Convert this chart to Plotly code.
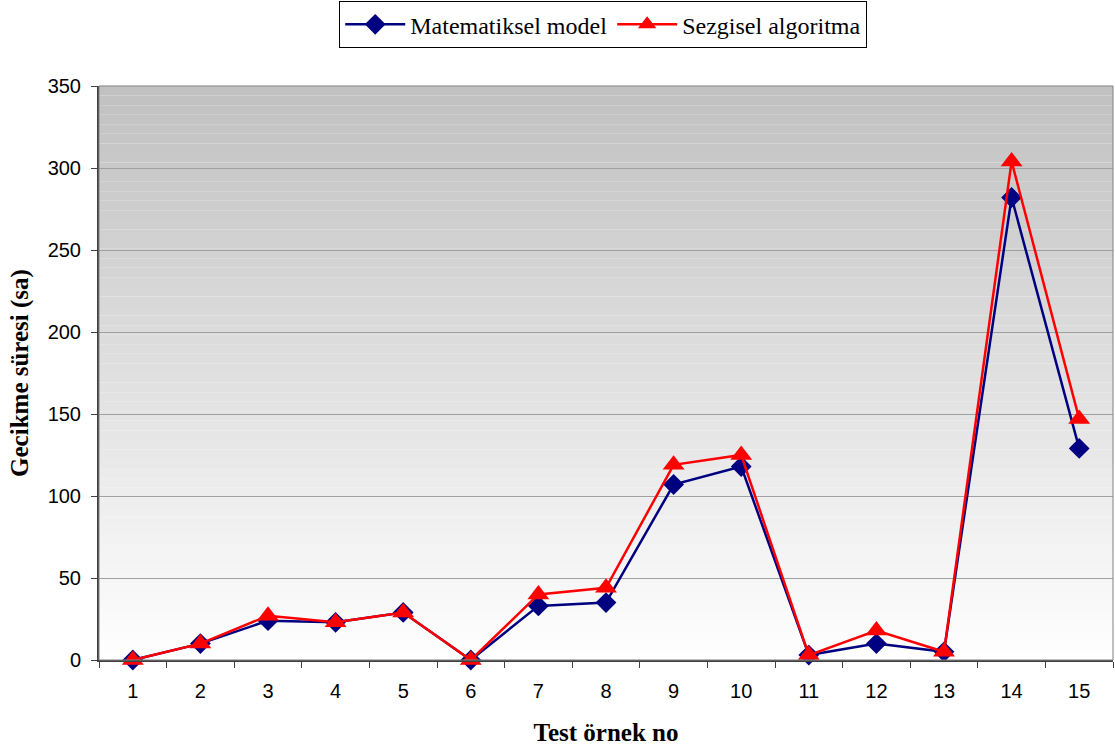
import plotly.graph_objects as go

categories = [str(i) for i in range(1, 16)]
matematiksel = [0, 10, 24, 23, 29, 0, 33, 35, 107, 118, 3, 10, 5, 282, 129]
sezgisel = [0, 10, 27, 23, 29, 0, 40, 44, 119, 125, 3, 18, 5, 304, 147]
y_ticks = [0, 50, 100, 150, 200, 250, 300, 350]

fig = go.Figure()
fig.add_trace(go.Scatter(
    x=categories, y=matematiksel, name="Matematiksel model", mode="lines+markers",
    line=dict(color="#000080", width=2.5),
    marker=dict(symbol="diamond", size=16, color="#000080"),
    cliponaxis=False,
))
fig.add_trace(go.Scatter(
    x=categories, y=sezgisel, name="Sezgisel algoritma", mode="lines+markers",
    line=dict(color="#ff0000", width=2.5),
    marker=dict(symbol="triangle-up", size=19, color="#ff0000"),
    cliponaxis=False,
))

# gradient background: gray at top to white at bottom
n = 60
shapes = []
top = (192, 192, 192)
bot = (255, 255, 255)
for i in range(n):
    t = (i + 0.5) / n
    c = tuple(int(round(bot[k] + (top[k] - bot[k]) * t)) for k in range(3))
    shapes.append(dict(
        type="rect", xref="x domain", yref="y domain",
        x0=0, x1=1, y0=i / n, y1=(i + 1) / n,
        fillcolor="rgb(%d,%d,%d)" % c, line=dict(width=0), layer="below",
    ))
shapes.append(dict(type="rect", xref="x domain", yref="y domain", x0=0, x1=1, y0=0, y1=1,
                   line=dict(color="#808080", width=1), fillcolor="rgba(0,0,0,0)", layer="above"))

serif = "Liberation Serif, Times New Roman, serif"
fig.update_layout(
    width=1115, height=749,
    margin=dict(l=99, r=2, t=86, b=89, autoexpand=False),
    paper_bgcolor="white", plot_bgcolor="rgba(0,0,0,0)",
    shapes=shapes,
    showlegend=True,
    legend=dict(orientation="h", xref="container", yref="container",
                x=0.541, y=0.967, xanchor="center", yanchor="middle",
                bordercolor="black", borderwidth=1, bgcolor="white",
                font=dict(family=serif, size=24, color="black"),
                itemwidth=60, tracegroupgap=0),
    font=dict(family="Liberation Sans, Arial, sans-serif", size=20, color="black"),
)
fig.update_xaxes(
    type="category", range=[-0.5, 14.5], tickson="boundaries", ticks="outside", ticklen=6,
    tickcolor="#404040", showgrid=False, showline=True, linecolor="#404040", linewidth=2,
    ticklabelstandoff=12,
    title=dict(text="<b>Test örnek no</b>", font=dict(family=serif, size=25), standoff=22),
    tickfont=dict(size=20),
)
fig.update_yaxes(
    range=[0, 350], tickvals=y_ticks, ticks="outside", ticklen=6, tickcolor="#404040",
    showgrid=True, gridcolor="#a0a0a0", gridwidth=1, showline=True, linecolor="#404040", linewidth=2,
    zeroline=False, ticklabelstandoff=6,
    title=dict(text="<b>Gecikme süresi (sa)</b>", font=dict(family=serif, size=25), standoff=12),
    tickfont=dict(size=20),
)

fig.write_html("out.html")
